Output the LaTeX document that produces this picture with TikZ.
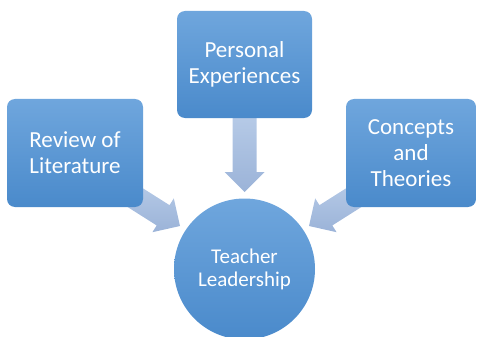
\documentclass[tikz,border=0pt]{standalone}
\usepackage{fontspec}
\setmainfont{Carlito}
\usetikzlibrary{calc}
\definecolor{boxtop}{HTML}{6FA6DD}
\definecolor{boxbot}{HTML}{4A8ACB}
\definecolor{arrtop}{HTML}{B8CCE8}
\definecolor{arrbot}{HTML}{9BB3D8}
\tikzset{
  box/.style={rounded corners=8pt, top color=boxtop, bottom color=boxbot, draw=none,
    text=white, align=center, font=\fontsize{23}{26}\selectfont, inner sep=0pt},
  hub/.style={circle, top color=boxtop, bottom color=boxbot, draw=none,
    text=white, align=center, font=\fontsize{21}{23}\selectfont, minimum size=141pt, inner sep=0pt},
  blockarrow/.style={top color=arrtop, bottom color=arrbot, draw=none}
}
\newcommand{\blkarrow}[2]{%
  \path[blockarrow]
    ($(#1)!12pt!90:(#2)$) --
    ($($(#2)!20pt!(#1)$)!12pt!90:(#2)$) --
    ($($(#2)!20pt!(#1)$)!20pt!90:(#2)$) --
    (#2) --
    ($($(#2)!20pt!(#1)$)!20pt!-90:(#2)$) --
    ($($(#2)!20pt!(#1)$)!12pt!-90:(#2)$) --
    ($(#1)!12pt!-90:(#2)$) -- cycle;}
\begin{document}
\begin{tikzpicture}[x=1pt,y=-1pt]
\useasboundingbox (0,0) rectangle (477,337);
% arrow anchors
\coordinate (ls) at (120,188);
\coordinate (lt) at (180,226);
\coordinate (ts) at (244.5,110);
\coordinate (tt) at (244.5,192);
\coordinate (rs) at (369,188);
\coordinate (rt) at (309,226);
\blkarrow{ls}{lt}
\blkarrow{ts}{tt}
\blkarrow{rs}{rt}
% boxes
\node[box, minimum width=136pt, minimum height=108pt] (lit) at (75,153) {Review of\\Literature};
\node[box, minimum width=135pt, minimum height=107pt] (pers) at (244.5,64.5) {Personal\\Experiences};
\node[box, minimum width=130pt, minimum height=108pt] (conc) at (411,153) {Concepts\\and\\Theories};
\node[hub] (tl) at (244.5,269) {Teacher\\Leadership};
\end{tikzpicture}
\end{document}
